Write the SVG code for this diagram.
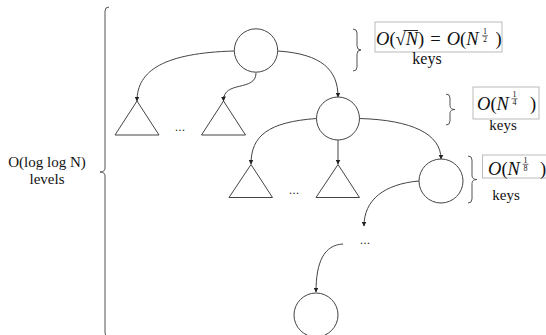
<svg xmlns="http://www.w3.org/2000/svg" width="546" height="335" viewBox="0 0 546 335">
<defs>
<style>
.shape{fill:none;stroke:#444;stroke-width:1}
.edge{fill:none;stroke:#444;stroke-width:1;marker-end:url(#arr)}
.brace{fill:none;stroke:#555;stroke-width:1}
.box{fill:#fff;stroke:#bbb;stroke-width:1}
.t{font-family:"Liberation Serif","Times New Roman",serif;fill:#111}
.m{font-family:"Liberation Serif","Times New Roman",serif;fill:#111;font-size:18.5px}
.fr{font-family:"Liberation Serif","Times New Roman",serif;fill:#111;font-size:8px;text-anchor:middle}
.i{font-style:italic}
.dots{font-family:"DejaVu Sans",sans-serif;font-size:11px;fill:#222;text-anchor:middle}
</style>
<marker id="arr" markerWidth="5" markerHeight="5" refX="4.5" refY="2.5" orient="auto" markerUnits="userSpaceOnUse">
<path d="M0,0 L5,2.5 L0,5 Z" fill="#222"/>
</marker>
</defs>
<rect width="546" height="335" fill="#fff"/>

<g id="connectors">
<path class="edge" d="M234,51 C165,53 137,70 137,101"/>
<path class="edge" d="M256,73 C256,92 223,80 223.5,101"/>
<path class="edge" d="M278,51 C322,54 338,70 338,97"/>
<path class="edge" d="M316.5,118.5 C268,122 251,136 251,164"/>
<path class="edge" d="M338,140 L338,164"/>
<path class="edge" d="M359.5,118.5 C412,120 441,134 441,159"/>
<path class="edge" d="M419,181 C384,184 364,200 364,226"/>
<path class="edge" d="M343,244 C324,245 316,262 316,292"/>
</g>

<g id="root"><circle class="shape" cx="256" cy="50.5" r="21.7"/></g>
<g id="tri1"><path class="shape" d="M137,101 L115,135 L159,135 Z"/></g>
<g id="dots1"><text class="dots" x="180" y="131">...</text></g>
<g id="tri2"><path class="shape" d="M223.5,101 L201.5,135 L245.5,135 Z"/></g>
<g id="node2"><circle class="shape" cx="338" cy="118.5" r="21.5"/></g>
<g id="tri3"><path class="shape" d="M251,164.5 L229,197.5 L272.5,197.5 Z"/></g>
<g id="dots2"><text class="dots" x="294" y="194">...</text></g>
<g id="tri4"><path class="shape" d="M338,164.5 L316,197.5 L359.5,197.5 Z"/></g>
<g id="node3"><circle class="shape" cx="441" cy="181" r="22"/></g>
<g id="dots3"><text class="dots" x="365" y="244">...</text></g>
<g id="node4"><circle class="shape" cx="316" cy="315" r="22"/></g>

<g id="levels">
<path class="brace" d="M109,7 Q105,7 105,11 L105,168 Q105,172 100,172 Q105,172 105,176 L105,333 Q105,337 109,337"/>
<text class="t" x="47" y="167" font-size="15" text-anchor="middle">O(log log N)</text>
<text class="t" x="47" y="184" font-size="15" text-anchor="middle">levels</text>
</g>

<g id="label1">
<path class="brace" d="M353,29 Q357,29 357,33 L357,46 Q357,50 361,50 Q357,50 357,54 L357,67 Q357,71 353,71"/>
<rect class="box" x="375" y="22" width="127" height="30"/>
<text class="m" x="376" y="45"><tspan class="i">O</tspan>(√<tspan class="i">N</tspan>)<tspan dx="6">=</tspan><tspan class="i" dx="6">O</tspan>(<tspan class="i">N</tspan></text>
<text class="m" x="495.5" y="45">)</text>
<line x1="403.5" y1="30.5" x2="418" y2="30.5" stroke="#111" stroke-width="0.9"/>
<text class="fr" x="485" y="34">1</text>
<line x1="482" y1="35.8" x2="488" y2="35.8" stroke="#111" stroke-width="0.6"/>
<text class="fr" x="485" y="42">2</text>
<text class="t" x="427" y="64" font-size="16" text-anchor="middle">keys</text>
</g>

<g id="label2">
<path class="brace" d="M446,94 Q450,94 450,98 L450,105.5 Q450,109.5 455,109.5 Q450,109.5 450,113.5 L450,121 Q450,125 446,125"/>
<rect class="box" x="473" y="87" width="66" height="32"/>
<text class="m" x="477" y="110"><tspan class="i">O</tspan>(<tspan class="i">N</tspan></text>
<text class="m" x="530" y="110">)</text>
<text class="fr" x="514.5" y="97">1</text>
<line x1="511.5" y1="98.8" x2="517.5" y2="98.8" stroke="#111" stroke-width="0.6"/>
<text class="fr" x="514.5" y="105">4</text>
<text class="t" x="503" y="130" font-size="15" text-anchor="middle">keys</text>
</g>

<g id="label3">
<path class="brace" d="M468,156 Q472,156 472,160 L472,175.5 Q472,179.5 477,179.5 Q472,179.5 472,183.5 L472,199 Q472,203 468,203"/>
<rect class="box" x="482.5" y="155" width="70" height="23"/>
<text class="m" x="488" y="175"><tspan class="i">O</tspan>(<tspan class="i">N</tspan></text>
<text class="m" x="540" y="175">)</text>
<text class="fr" x="525.5" y="162.5">1</text>
<line x1="522.5" y1="164.3" x2="528.5" y2="164.3" stroke="#111" stroke-width="0.6"/>
<text class="fr" x="525.5" y="170.5">8</text>
<text class="t" x="506" y="200" font-size="15" text-anchor="middle">keys</text>
</g>
</svg>
